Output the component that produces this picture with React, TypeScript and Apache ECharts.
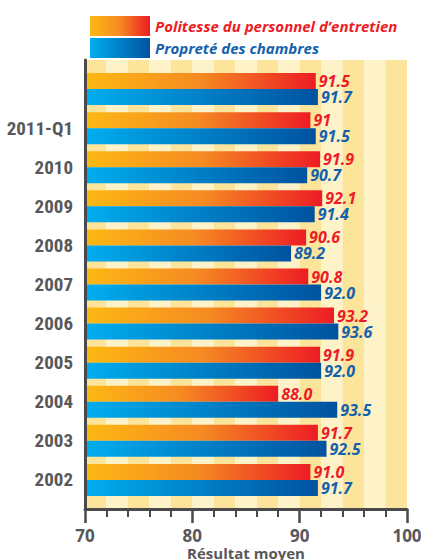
import React, { useEffect, useRef } from "react";
import * as echarts from "echarts";

const categories = ["2002", "2003", "2004", "2005", "2006", "2007", "2008", "2009", "2010", "2011-Q1", ""];
const politesse = [91.0, 91.7, 88.0, 91.9, 93.2, 90.8, 90.6, 92.1, 91.9, 91, 91.5];
const politesseLabels = ["91.0", "91.7", "88.0", "91.9", "93.2", "90.8", "90.6", "92.1", "91.9", "91", "91.5"];
const proprete = [91.7, 92.5, 93.5, 92.0, 93.6, 92.0, 89.2, 91.4, 90.7, 91.5, 91.7];
const propreteLabels = ["91.7", "92.5", "93.5", "92.0", "93.6", "92.0", "89.2", "91.4", "90.7", "91.5", "91.7"];
const seriesNames = ["Politesse du personnel d\u2019entretien", "Propret\u00e9 des chambres"];
const xTicks = [70, 80, 90, 100];

const GRAY = "#58585a";
const RED = "#ed1c24";
const BLUE = "#1461ab";
const STRIPE_DARK = "#fde49b";
const STRIPE_LIGHT = "#fef2c9";

export default function App() {
  const ref = useRef<HTMLDivElement>(null);
  useEffect(() => {
    const chart = echarts.init(ref.current!, null, { renderer: "svg" });
    const orangeGrad = new echarts.graphic.LinearGradient(0, 0, 1, 0, [
      { offset: 0, color: "#fdb913" },
      { offset: 0.5, color: "#f58a22" },
      { offset: 1, color: "#ed1c24" },
    ]);
    const blueGrad = new echarts.graphic.LinearGradient(0, 0, 1, 0, [
      { offset: 0, color: "#00aeef" },
      { offset: 1, color: "#00529f" },
    ]);
    const valueLabel = {
      show: true,
      position: "right",
      distance: 3,
      fontFamily: "Open Sans",
      fontSize: 16,
      lineHeight: 15,
      fontWeight: "bold",
      fontStyle: "italic",
    };
    chart.setOption({
      animation: false,
      legend: {
        orient: "vertical",
        left: 85,
        top: 11,
        itemWidth: 60,
        itemHeight: 20,
        itemGap: 2,
        icon: "rect",
        data: [
          { name: seriesNames[0], textStyle: { color: RED } },
          { name: seriesNames[1], textStyle: { color: BLUE } },
        ],
        textStyle: { fontFamily: "Open Sans", fontSize: 15, fontWeight: "bold", fontStyle: "italic" },
      },
      grid: [
        { left: 85, right: 14, top: 60, bottom: 51, outerBoundsMode: "none", containLabel: false },
        { left: 85, right: 14, top: 69.5, bottom: 60.5, outerBoundsMode: "none", containLabel: false },
      ],
      xAxis: [
        {
          gridIndex: 0,
          type: "value",
          min: xTicks[0],
          max: xTicks[xTicks.length - 1],
          interval: 10,
          position: "bottom",
          axisLine: { show: true, lineStyle: { color: "#4a4a4c", width: 3 } },
          axisTick: { show: true, length: 14, lineStyle: { color: "#4a4a4c", width: 2.5 } },
          minorTick: { show: true, splitNumber: 5, length: 8, lineStyle: { color: "#4a4a4c", width: 2 } },
          splitLine: { show: false },
          axisLabel: { color: GRAY, fontFamily: "Open Sans", fontSize: 17, fontWeight: "bold", margin: 19, lineHeight: 14 },
          name: "R\u00e9sultat moyen",
          nameLocation: "middle",
          nameGap: 36,
          nameMoveOverlap: false,
          nameTextStyle: { color: GRAY, fontFamily: "Open Sans", fontSize: 15, fontWeight: "bold", lineHeight: 15 },
          z: 5,
        },
        {
          gridIndex: 0,
          type: "value",
          min: 70,
          max: 100,
          interval: 2,
          position: "bottom",
          axisLine: { show: false },
          axisTick: { show: false },
          axisLabel: { show: false },
          splitLine: { show: false },
          splitArea: { show: true, areaStyle: { color: [STRIPE_DARK, STRIPE_LIGHT] } },
        },
        {
          gridIndex: 1,
          type: "value",
          min: 70,
          max: 100,
          show: false,
        },
      ],
      yAxis: [
        {
          gridIndex: 0,
          type: "value",
          min: 0,
          max: 1,
          axisLine: { show: true, lineStyle: { color: "#4a4a4c", width: 3 } },
          axisTick: { show: false },
          axisLabel: { show: false },
          splitLine: { show: false },
          z: 5,
        },
        {
          gridIndex: 1,
          type: "category",
          data: categories,
          axisLine: { show: false },
          axisTick: { show: false },
          axisLabel: {
            color: GRAY,
            fontFamily: "'Liberation Sans Narrow', 'Roboto Condensed', Roboto, sans-serif",
            fontSize: 19,
            fontWeight: "bold",
            margin: 12,
          },
        },
      ],
      series: [
        {
          name: seriesNames[0],
          type: "bar",
          xAxisIndex: 2,
          yAxisIndex: 1,
          data: politesse,
          barWidth: 16,
          barGap: "0%",
          itemStyle: { color: orangeGrad },
          label: { ...valueLabel, color: RED, formatter: (p: any) => politesseLabels[p.dataIndex] },
        },
        {
          name: seriesNames[1],
          type: "bar",
          xAxisIndex: 2,
          yAxisIndex: 1,
          data: proprete,
          barWidth: 16,
          barGap: "0%",
          itemStyle: { color: blueGrad },
          label: { ...valueLabel, color: BLUE, formatter: (p: any) => propreteLabels[p.dataIndex] },
        },
      ],
    });
    return () => chart.dispose();
  }, []);
  return <div ref={ref} style={{ width: 421, height: 560, position: "absolute", left: 0, top: 0 }} />;
}
